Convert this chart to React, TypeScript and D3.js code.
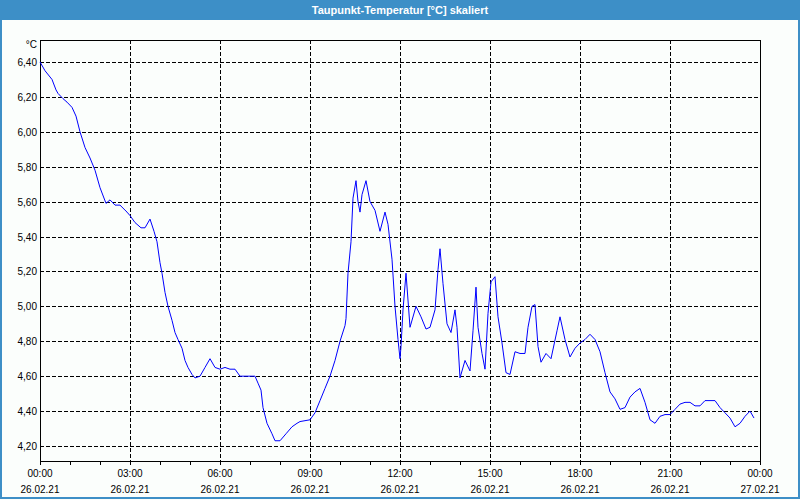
import React from "react";
import * as d3 from "d3";

const TITLE = "Taupunkt-Temperatur [°C] skaliert";
const UNIT = "°C";

// minutes after 26.02.21 00:00
const minutes = [
  0, 10, 24, 32, 36, 46, 54, 64, 72, 80, 90, 100, 110, 120, 132, 140, 150, 160, 174, 180,
  190, 202, 210, 220, 228, 234, 240, 244, 250, 256, 264, 270, 276, 284, 290, 296, 304, 310, 320, 330,
  340, 350, 360, 370, 380, 390, 400, 410, 420, 430, 436, 442, 446, 454, 464, 470, 480, 492, 504, 514,
  520, 540, 550, 560, 570, 580, 590, 600, 610, 612, 616, 622, 626, 632, 636, 640, 644, 652, 660, 670,
  680, 690, 696, 704, 710, 716, 720, 722, 726, 732, 740, 752, 762, 772, 780, 790, 796, 800, 806, 814,
  822, 830, 834, 840, 850, 860, 866, 872, 876, 884, 890, 896, 902, 910, 916, 924, 932, 940, 950, 960,
  970, 976, 984, 990, 996, 1002, 1012, 1022, 1034, 1040, 1050, 1060, 1070, 1080, 1090, 1100, 1110, 1120, 1130, 1140,
  1150, 1160, 1170, 1180, 1190, 1200, 1210, 1220, 1230, 1240, 1250, 1260, 1270, 1280, 1290, 1300, 1310, 1320, 1330, 1340,
  1350, 1360, 1370, 1380, 1390, 1400, 1410, 1420, 1428,
];

const dewPoint = [
  6.40, 6.35, 6.30, 6.24, 6.22, 6.19, 6.17, 6.14, 6.09, 6.00, 5.91, 5.85, 5.78, 5.68, 5.59, 5.61, 5.58, 5.58, 5.54, 5.52,
  5.48, 5.45, 5.45, 5.50, 5.43, 5.37, 5.25, 5.19, 5.08, 5.00, 4.92, 4.85, 4.81, 4.76, 4.69, 4.65, 4.61, 4.59, 4.60, 4.65,
  4.70, 4.65, 4.64, 4.65, 4.64, 4.64, 4.60, 4.60, 4.60, 4.60, 4.56, 4.52, 4.42, 4.33, 4.27, 4.23, 4.23, 4.27, 4.31, 4.33,
  4.34, 4.35, 4.39, 4.46, 4.53, 4.60, 4.69, 4.80, 4.89, 4.93, 5.19, 5.37, 5.62, 5.72, 5.60, 5.54, 5.64, 5.72, 5.60, 5.55,
  5.43, 5.54, 5.47, 5.27, 5.00, 4.81, 4.70, 4.77, 4.98, 5.19, 4.88, 5.00, 4.94, 4.87, 4.88, 4.98, 5.21, 5.33, 5.13, 4.90,
  4.85, 4.98, 4.88, 4.59, 4.69, 4.63, 4.86, 5.11, 4.88, 4.73, 4.64, 4.96, 5.14, 5.17, 4.94, 4.79, 4.62, 4.61, 4.74, 4.73,
  4.73, 4.88, 5.00, 5.01, 4.77, 4.68, 4.73, 4.70, 4.86, 4.94, 4.81, 4.71, 4.76, 4.79, 4.81, 4.84, 4.81, 4.74, 4.62, 4.51,
  4.47, 4.41, 4.42, 4.48, 4.51, 4.53, 4.45, 4.35, 4.33, 4.37, 4.38, 4.38, 4.41, 4.44, 4.45, 4.45, 4.43, 4.43, 4.46, 4.46,
  4.46, 4.42, 4.39, 4.36, 4.31, 4.33, 4.37, 4.40, 4.36,
];

const yTicks = [4.2, 4.4, 4.6, 4.8, 5.0, 5.2, 5.4, 5.6, 5.8, 6.0, 6.2, 6.4];
const xMajor = [0, 180, 360, 540, 720, 900, 1080, 1260, 1440];
const xTimeLabels = ["00:00", "03:00", "06:00", "09:00", "12:00", "15:00", "18:00", "21:00", "00:00"];
const xDateLabels = ["26.02.21", "26.02.21", "26.02.21", "26.02.21", "26.02.21", "26.02.21", "26.02.21", "26.02.21", "27.02.21"];

const W = 800;
const H = 500;
const L = 40;
const R = 760;
const T = 40;
const B = 461;

const FONT = "'Liberation Sans', Arial, sans-serif";

export default function App() {
  const x = d3.scaleLinear().domain([0, 1440]).range([L, R]);
  const y = d3.scaleLinear().domain([4.114, 6.526]).range([B, T]);
  const pts: [number, number][] = minutes.map((m, i) => [m, dewPoint[i]]);
  const line = d3
    .line<[number, number]>()
    .x((d) => x(d[0]))
    .y((d) => y(d[1]));
  const minorTicks = d3.range(0, 1441, 60);
  const fmt = (v: number) => v.toFixed(2).replace(".", ",");

  return (
    <svg
      width={W}
      height={H}
      style={{ position: "absolute", left: 0, top: 0, display: "block" }}
      fontFamily={FONT}
    >
      <rect x={0} y={0} width={W} height={H} fill="#fbfefc" />
      <rect x={0} y={0} width={W} height={20} fill="#3d8fc7" />
      <rect x={1} y={1} width={W - 2} height={H - 3} fill="none" stroke="#3d8fc7" strokeWidth={2} />
      <text x={W / 2} y={14} textAnchor="middle" fill="#fff" fontSize={11} fontWeight="bold">
        {TITLE}
      </text>

      {/* horizontal grid */}
      {yTicks.map((v) => (
        <line
          key={"h" + v}
          x1={L}
          x2={R}
          y1={Math.round(y(v)) + 0.5}
          y2={Math.round(y(v)) + 0.5}
          stroke="#000"
          strokeDasharray="4,2"
          shapeRendering="crispEdges"
        />
      ))}
      {/* vertical grid */}
      {xMajor.slice(1, -1).map((m) => (
        <line
          key={"v" + m}
          x1={Math.round(x(m)) + 0.5}
          x2={Math.round(x(m)) + 0.5}
          y1={T}
          y2={B}
          stroke="#000"
          strokeDasharray="4,2"
          shapeRendering="crispEdges"
        />
      ))}

      {/* frame */}
      <rect
        x={L + 0.5}
        y={T + 0.5}
        width={R - L}
        height={B - T}
        fill="none"
        stroke="#000"
        shapeRendering="crispEdges"
      />
      <line x1={L} x2={R + 1} y1={B + 0.5} y2={B + 0.5} stroke="#000" strokeWidth={1} shapeRendering="crispEdges" />

      {/* minor ticks */}
      {minorTicks.map((m) => (
        <line
          key={"t" + m}
          x1={Math.round(x(m)) + 0.5}
          x2={Math.round(x(m)) + 0.5}
          y1={B}
          y2={B + 4}
          stroke="#000"
          shapeRendering="crispEdges"
        />
      ))}

      {/* y labels */}
      <text x={37} y={48} textAnchor="end" fontSize={10} fill="#000">
        {UNIT}
      </text>
      {yTicks.map((v) => (
        <text key={"yl" + v} x={37} y={y(v) + 4} textAnchor="end" fontSize={10} fill="#000">
          {fmt(v)}
        </text>
      ))}

      {/* x labels */}
      {xMajor.map((m, i) => (
        <g key={"xl" + m}>
          <text x={x(m)} y={477} textAnchor="middle" fontSize={10} fill="#000">
            {xTimeLabels[i]}
          </text>
          <text x={x(m)} y={493} textAnchor="middle" fontSize={10} fill="#000">
            {xDateLabels[i]}
          </text>
        </g>
      ))}

      {/* data line */}
      <path d={line(pts) || ""} fill="none" stroke="#0000ff" strokeWidth={1} />
    </svg>
  );
}
